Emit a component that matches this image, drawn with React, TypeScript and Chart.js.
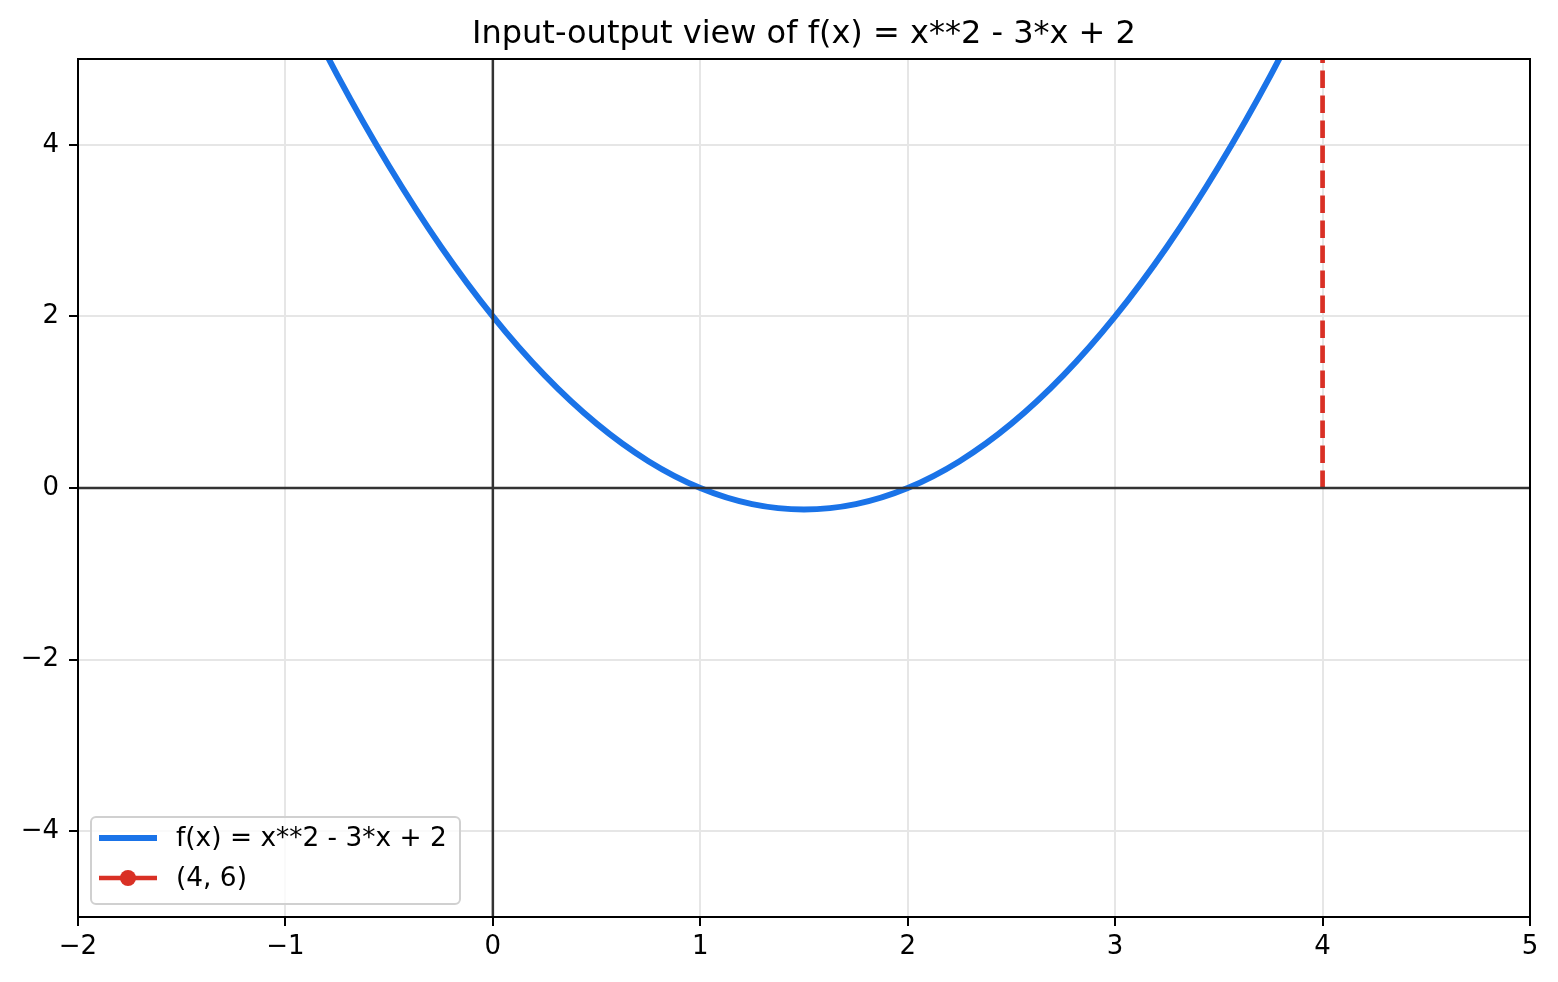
import React, { useEffect, useRef } from 'react';
import { Chart, registerables } from 'chart.js';

Chart.register(...registerables);

const FONT = '"DejaVu Sans", "Liberation Sans", sans-serif';

const titleText = 'Input-output view of f(x) = x**2 - 3*x + 2';
const curveLabel = 'f(x) = x**2 - 3*x + 2';
const pointLabel = '(4, 6)';

const curveX = [-1, -0.75, -0.5, -0.25, 0, 0.25, 0.5, 0.75, 1, 1.25, 1.5, 1.75, 2, 2.25, 2.5, 2.75, 3, 3.25, 3.5, 3.75, 4];
const curveY = [6, 4.8125, 3.75, 2.8125, 2, 1.3125, 0.75, 0.3125, 0, -0.1875, -0.25, -0.1875, 0, 0.3125, 0.75, 1.3125, 2, 2.8125, 3.75, 4.8125, 6];

const pointX = [4];
const pointY = [6];

const guideX = [4, 4];
const guideY = [0, 6];

const xTicks = [-2, -1, 0, 1, 2, 3, 4, 5];
const yTicks = [-4, -2, 0, 2, 4];
const xRange = [-2, 5];
const yRange = [-5, 5];

const BLUE = '#1a73e8';
const RED = '#d93025';

const fmt = (v: number | string) => {
  const n = Number(v);
  return n < 0 ? '\u2212' + Math.abs(n) : String(n);
};

const titlePlugin = {
  id: 'mplTitle',
  afterDraw(chart: any) {
    const { ctx, chartArea: a } = chart;
    ctx.save();
    ctx.fillStyle = '#000';
    ctx.font = `32px ${FONT}`;
    ctx.textAlign = 'center';
    ctx.textBaseline = 'alphabetic';
    ctx.fillText(titleText, (a.left + a.right) / 2, 43);
    ctx.restore();
  },
};

const framePlugin = {
  id: 'frameAndZero',
  afterDatasetsDraw(chart: any) {
    const { ctx, chartArea: a, scales } = chart;
    const px = scales.x.getPixelForValue(0);
    const py = scales.y.getPixelForValue(0);
    ctx.save();
    ctx.strokeStyle = '#333333';
    ctx.lineWidth = 2.5;
    ctx.beginPath();
    ctx.moveTo(a.left, py);
    ctx.lineTo(a.right, py);
    ctx.moveTo(px, a.top);
    ctx.lineTo(px, a.bottom);
    ctx.stroke();
    ctx.strokeStyle = '#000';
    ctx.lineWidth = 2;
    ctx.strokeRect(a.left, a.top, a.right - a.left, a.bottom - a.top);
    ctx.restore();
  },
};

const legendPlugin = {
  id: 'mplLegend',
  afterDraw(chart: any) {
    const { ctx, chartArea: a } = chart;
    const bx = a.left + 13;
    const bw = 369;
    const bh = 87;
    const by = a.bottom - 13 - bh;
    ctx.save();
    ctx.beginPath();
    ctx.roundRect(bx, by, bw, bh, 5);
    ctx.fillStyle = 'rgba(255,255,255,0.8)';
    ctx.fill();
    ctx.strokeStyle = '#d0d0d0';
    ctx.lineWidth = 2;
    ctx.stroke();

    const hx0 = bx + 8;
    const hx1 = bx + 66;
    const tx = bx + 85;
    const r1 = by + 21;
    const r2 = by + 61;

    ctx.lineCap = 'butt';
    ctx.strokeStyle = BLUE;
    ctx.lineWidth = 6;
    ctx.beginPath();
    ctx.moveTo(hx0, r1);
    ctx.lineTo(hx1, r1);
    ctx.stroke();

    ctx.strokeStyle = RED;
    ctx.lineWidth = 4.7;
    ctx.beginPath();
    ctx.moveTo(hx0, r2);
    ctx.lineTo(hx1, r2);
    ctx.stroke();
    ctx.fillStyle = RED;
    ctx.beginPath();
    ctx.arc((hx0 + hx1) / 2, r2, 8, 0, Math.PI * 2);
    ctx.fill();

    ctx.fillStyle = '#000';
    ctx.font = `26.4px ${FONT}`;
    ctx.textAlign = 'left';
    ctx.textBaseline = 'middle';
    ctx.fillText(curveLabel, tx, r1 + 1);
    ctx.fillText(pointLabel, tx, r2 + 1);
    ctx.restore();
  },
};

export default function App() {
  const ref = useRef<HTMLCanvasElement | null>(null);

  useEffect(() => {
    document.body.style.margin = '0';
    const canvas = ref.current;
    if (!canvas) return;

    const gridOpts = {
      color: '#e6e6e6',
      lineWidth: 2,
      drawTicks: true,
      tickLength: 9,
      tickColor: '#000',
      tickWidth: 2,
    };

    const chart = new Chart(canvas, {
      type: 'scatter',
      data: {
        datasets: [
          {
            label: curveLabel,
            data: curveX.map((x, i) => ({ x, y: curveY[i] })),
            showLine: true,
            borderColor: BLUE,
            backgroundColor: BLUE,
            borderWidth: 6,
            pointRadius: 0,
            cubicInterpolationMode: 'monotone',
            clip: 0,
          } as any,
          {
            label: pointLabel,
            data: pointX.map((x, i) => ({ x, y: pointY[i] })),
            showLine: true,
            borderColor: RED,
            backgroundColor: RED,
            borderWidth: 4.7,
            pointRadius: 8,
            clip: 0,
          } as any,
          {
            label: 'guide',
            data: guideX.map((x, i) => ({ x, y: guideY[i] })),
            showLine: true,
            borderColor: RED,
            borderWidth: 4.7,
            borderDash: [17.5, 7.5],
            pointRadius: 0,
            clip: 0,
          } as any,
        ],
      },
      options: {
        animation: false,
        responsive: false,
        devicePixelRatio: 1,
        layout: { padding: { top: 59, right: 28, left: 0, bottom: 0 } },
        plugins: {
          legend: { display: false },
          title: { display: false },
          tooltip: { enabled: false },
        },
        events: [],
        scales: {
          x: {
            type: 'linear',
            min: xRange[0],
            max: xRange[1],
            afterBuildTicks: (s: any) => {
              s.ticks = xTicks.map((v) => ({ value: v }));
            },
            afterFit: (s: any) => {
              s.height = 65;
            },
            grid: gridOpts,
            border: { display: false },
            ticks: {
              color: '#000',
              font: { size: 26, family: FONT },
              padding: 6,
              maxRotation: 0,
              autoSkip: false,
              callback: fmt,
            },
          },
          y: {
            type: 'linear',
            min: yRange[0],
            max: yRange[1],
            afterBuildTicks: (s: any) => {
              s.ticks = yTicks.map((v) => ({ value: v }));
            },
            afterFit: (s: any) => {
              s.width = 78;
            },
            grid: gridOpts,
            border: { display: false },
            ticks: {
              color: '#000',
              font: { size: 26, family: FONT },
              padding: 10,
              autoSkip: false,
              callback: fmt,
            },
          },
        },
      } as any,
      plugins: [framePlugin, legendPlugin, titlePlugin],
    });

    return () => chart.destroy();
  }, []);

  return (
    <div style={{ width: 1558, height: 982 }}>
      <canvas ref={ref} width={1558} height={982} style={{ display: 'block' }} />
    </div>
  );
}
